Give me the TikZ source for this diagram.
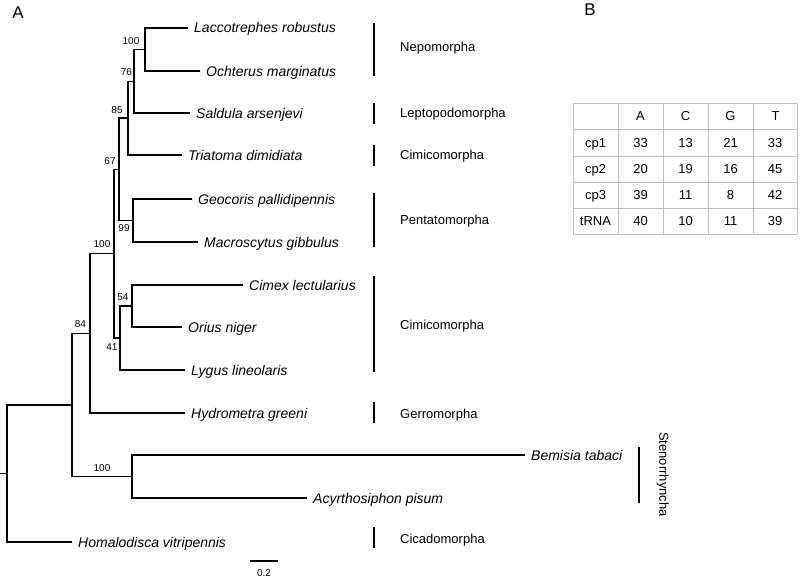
\documentclass[tikz,border=0pt]{standalone}
\usepackage{fontspec}
\setmainfont{Liberation Sans}
\begin{document}
\begin{tikzpicture}[x=1pt,y=-1pt,
  br/.style={line width=1.4pt},
  cladebar/.style={line width=1.8pt},
  taxon/.style={anchor=west,xshift=6pt,inner sep=0pt,text height=10pt,text depth=0pt,font=\fontsize{14}{16}\selectfont\itshape},
  clade/.style={anchor=west,inner sep=0pt,text height=9.3pt,text depth=0pt,font=\fontsize{13}{15}\selectfont},
  boot/.style={inner sep=0pt,text height=7.2pt,text depth=0pt,font=\fontsize{10}{12}\selectfont},
  cell/.style={inner sep=0pt,text height=9.3pt,text depth=0pt,font=\fontsize{13}{15}\selectfont},
  grid/.style={draw=gray!50,line width=0.8pt},
  panel/.style={inner sep=0pt,font=\fontsize{17}{19}\selectfont}]
\useasboundingbox (0,0) rectangle (800,578);

% panel labels
\node[panel] (pA) at (18,12.5) {A};
\node[panel] (pB) at (590,10) {B};

% internal nodes
\coordinate (stub) at (0,473.5);
\coordinate (root) at (7,473.5);
\coordinate (nA) at (72,404.9);
\coordinate (n84) at (90,333.3);
\coordinate (n100b) at (114,253.7);
\coordinate (n67) at (119,169.3);
\coordinate (n85) at (128,118.1);
\coordinate (n76) at (134,81.25);
\coordinate (n100a) at (145,49.5);
\coordinate (n99) at (133,220.5);
\coordinate (n41) at (120,338);
\coordinate (n54) at (132,306);
\coordinate (n100c) at (132,476.5);

% tips
\coordinate (tLac) at (188,28);
\coordinate (tOch) at (200,71);
\coordinate (tSal) at (190,113);
\coordinate (tTri) at (182,155);
\coordinate (tGeo) at (192,199);
\coordinate (tMac) at (198,242);
\coordinate (tCim) at (243,285);
\coordinate (tOri) at (182,327);
\coordinate (tLyg) at (185,370);
\coordinate (tHyd) at (185,413);
\coordinate (tBem) at (525,455);
\coordinate (tAcy) at (307,498);
\coordinate (tHom) at (72,542);

% branches
\draw[br] (tLac) -| (n100a) |- (tOch);
\draw[br] (n100a) -| (n76) |- (tSal);
\draw[br] (n76) -| (n85) |- (tTri);
\draw[br] (tGeo) -| (n99) |- (tMac);
\draw[br] (n85) -| (n67) |- (n99);
\draw[br] (tCim) -| (n54) |- (tOri);
\draw[br] (n54) -| (n41) |- (tLyg);
\draw[br] (n67) -| (n100b) |- (n41);
\draw[br] (n100b) -| (n84) |- (tHyd);
\draw[br] (tBem) -| (n100c) |- (tAcy);
\draw[br] (n84) -| (nA) |- (n100c);
\draw[br] (nA) -| (root) |- (tHom);
\draw[br] (stub) -- (root);

% taxon names
\node[taxon] (Lac) at (tLac) {Laccotrephes robustus};
\node[taxon] (Och) at (tOch) {Ochterus marginatus};
\node[taxon] (Sal) at (tSal) {Saldula arsenjevi};
\node[taxon] (Tri) at (tTri) {Triatoma dimidiata};
\node[taxon] (Geo) at (tGeo) {Geocoris pallidipennis};
\node[taxon] (Mac) at (tMac) {Macroscytus gibbulus};
\node[taxon] (Cim) at (tCim) {Cimex lectularius};
\node[taxon] (Ori) at (tOri) {Orius niger};
\node[taxon] (Lyg) at (tLyg) {Lygus lineolaris};
\node[taxon] (Hyd) at (tHyd) {Hydrometra greeni};
\node[taxon] (Bem) at (tBem) {Bemisia tabaci};
\node[taxon] (Acy) at (tAcy) {Acyrthosiphon pisum};
\node[taxon] (Hom) at (tHom) {Homalodisca vitripennis};

% bootstrap values
\node[boot] (b100a) at (131,41) {100};
\node[boot] (b76) at (126.5,72) {76};
\node[boot] (b85) at (117,110) {85};
\node[boot] (b67) at (110,161) {67};
\node[boot] (b99) at (124,228) {99};
\node[boot] (b100b) at (102,244) {100};
\node[boot] (b54) at (123,296.5) {54};
\node[boot] (b41) at (112,346.5) {41};
\node[boot] (b84) at (80.5,324) {84};
\node[boot] (b100c) at (102,468) {100};

% clade bars
\coordinate (c1a) at (374,23);  \coordinate (c1b) at (374,76);
\coordinate (c2a) at (374,103); \coordinate (c2b) at (374,124);
\coordinate (c3a) at (374,145); \coordinate (c3b) at (374,166);
\coordinate (c4a) at (374,193); \coordinate (c4b) at (374,247);
\coordinate (c5a) at (374,276); \coordinate (c5b) at (374,372);
\coordinate (c6a) at (374,402); \coordinate (c6b) at (374,423);
\coordinate (c7a) at (639,447); \coordinate (c7b) at (639,503);
\coordinate (c8a) at (374,527); \coordinate (c8b) at (374,548);
\foreach \i in {1,...,8} \draw[cladebar] (c\i a) -- (c\i b);

\node[clade] (Nep) at (400,47) {Nepomorpha};
\node[clade] (Lep) at (400,113) {Leptopodomorpha};
\node[clade] (Cimi1) at (400,155) {Cimicomorpha};
\node[clade] (Pen) at (400,220) {Pentatomorpha};
\node[clade] (Cimi2) at (400,325) {Cimicomorpha};
\node[clade] (Ger) at (400,414) {Gerromorpha};
\node[clade,anchor=center,rotate=-90] (Ste) at (664,474.5) {Stenorrhyncha};
\node[clade] (Cic) at (400,539) {Cicadomorpha};

% scale bar
\coordinate (sbL) at (250,561);
\coordinate (sbR) at (278,561);
\draw[line width=1.3pt] (sbL) -- (sbR);
\node[boot] (sbT) at (264,573) {0.2};

% table B
\foreach \x in {573,618,663,708,753,797} \draw[grid] (\x,103) -- (\x,234);
\foreach \y in {103,129,156,182,208,234} \draw[grid] (573,\y) -- (797,\y);
\foreach \t [count=\c] in {A,C,G,T}
  \node[cell] (h\c) at ({573+45*\c+22.5},116) {\t};
\foreach \r/\ry in {cp1/142.5,cp2/169,cp3/195,tRNA/221}
  \node[cell] (r\r) at (595.5,\ry) {\r};
\foreach \a/\cc/\g/\tt/\ry [count=\k] in {33/13/21/33/142.5,20/19/16/45/169,39/11/8/42/195,40/10/11/39/221}{
  \node[cell] (v\k a) at (640.5,\ry) {\a};
  \node[cell] (v\k c) at (685.5,\ry) {\cc};
  \node[cell] (v\k g) at (730.5,\ry) {\g};
  \node[cell] (v\k t) at (775,\ry) {\tt};
}
\end{tikzpicture}
\end{document}
